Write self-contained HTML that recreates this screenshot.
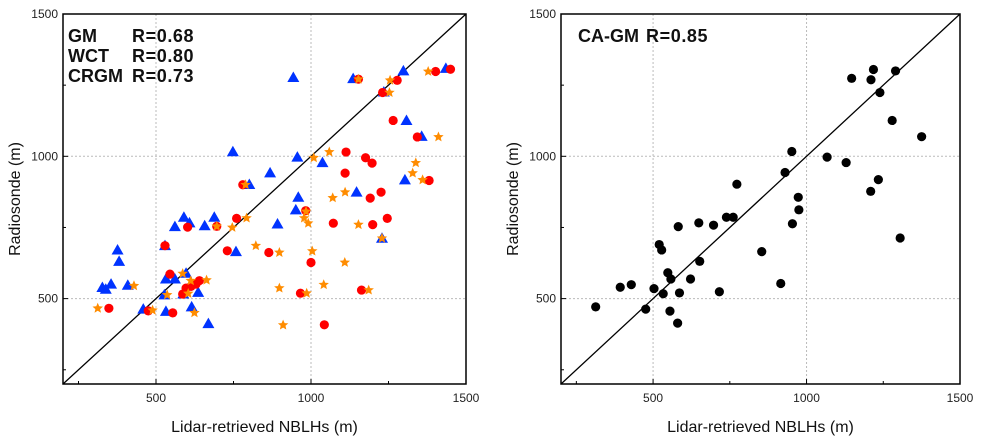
<!DOCTYPE html>
<html><head><meta charset="utf-8"><style>
html,body{margin:0;padding:0;background:#fff;}
svg{display:block;font-family:"Liberation Sans",Arial,sans-serif;}
</style></head><body>
<svg id="chart" width="983" height="444" viewBox="0 0 983 444">
<g id="left"></g>
<g id="right"></g>
</svg>
<script>
const ticks = [500, 1000, 1500];
const minorTicks = [250, 750, 1250];
const gmX = [1450,1402,1278,1231,1265,1343,1113,1176,1197,1110,780,1381,1226,1191,983,760,602,696,529,1072,1199,1246,730,864,1000,545,586,597,613,629,640,1163,966,348,475,554,1043,1153];
const gmY = [1306,1298,1267,1224,1126,1068,1015,995,976,941,900,915,874,853,809,782,751,754,686,765,760,782,668,662,627,586,516,537,543,551,563,530,519,466,457,450,408,1271];
const wctX = [943,1136,1298,1435,1235,1308,1357,748,956,1037,868,801,1303,959,1147,951,590,608,561,657,688,892,1229,376,381,529,758,327,355,338,409,532,561,597,527,588,636,459,532,615,669];
const wctY = [1277,1273,1300,1309,1226,1126,1070,1016,997,978,942,901,917,856,874,812,786,766,753,756,786,762,712,671,631,686,665,539,551,533,547,569,569,589,513,516,522,463,455,471,412];
const crgmX = [1153,1378,1255,1253,1411,1009,1059,1338,1328,1360,789,1110,1070,984,978,991,792,746,696,822,898,1004,1109,586,612,663,429,536,604,898,986,1041,1186,1229,312,489,624,910,1153];
const crgmY = [1271,1298,1267,1224,1068,995,1015,977,941,917,900,874,854,806,783,765,783,750,754,686,662,667,627,588,563,565,545,513,518,537,519,549,530,712,466,459,450,407,760];
const cagmX = [313,393,429,476,503,533,548,558,555,580,586,520,528,582,622,652,649,697,716,739,761,773,854,916,930,952,954,973,975,1067,1129,1147,1209,1210,1218,1234,1239,1279,1290,1305,1375];
const cagmY = [471,540,549,463,535,517,591,569,456,414,520,690,671,753,569,631,766,758,524,786,786,902,665,553,943,1017,763,856,812,997,978,1274,877,1269,1305,918,1224,1126,1300,713,1069];

const NS = "http://www.w3.org/2000/svg";
function mk(parent, tag, attrs){ const e=document.createElementNS(NS,tag); for(const k in attrs) e.setAttribute(k,attrs[k]); parent.appendChild(e); return e; }

function panel(g, x0, x1, y0, y1){
  const sx = v => x0 + (v-200)*(x1-x0)/1300;
  const sy = v => y1 - (v-200)*(y1-y0)/1300;
  [500,1000].forEach(t=>{
    let l=mk(g,'line',{x1:sx(t),x2:sx(t),y1:y0,y2:y1,stroke:'#bbb','stroke-dasharray':'2,2','stroke-width':1});
    
    
    l=mk(g,'line',{x1:x0,x2:x1,y1:sy(t),y2:sy(t),stroke:'#bbb','stroke-dasharray':'2,2','stroke-width':1});
    
    
  });
  const d=mk(g,'line',{x1:sx(200),y1:sy(200),x2:sx(1500),y2:sy(1500),stroke:'#000','stroke-width':1.3});
  
  
  return {sx,sy};
}
function frame(g,x0,x1,y0,y1,sx,sy){
  const f=mk(g,'rect',{x:x0,y:y0,width:x1-x0,height:y1-y0,fill:'none',stroke:'#000','stroke-width':1.5});
  
  
  ticks.concat(minorTicks).forEach(t=>{
    const len = ticks.includes(t)?5:3;
    if(t<1500){
      mk(g,'line',{x1:sx(t),x2:sx(t),y1:y1,y2:y1-len,stroke:'#000','stroke-width':1});
      mk(g,'line',{x1:x0,x2:x0+len,y1:sy(t),y2:sy(t),stroke:'#000','stroke-width':1});
    }
  });
  ticks.forEach(t=>{
    const tx=mk(g,'text',{x:sx(t),y:y1+18,'text-anchor':'middle','font-size':12,fill:'#222'});
    tx.textContent=t;
    
    
    const ty=mk(g,'text',{x:x0-5,y:sy(t)+4,'text-anchor':'end','font-size':12,fill:'#222'});
    ty.textContent=t;
    
    
  });
  const xt=mk(g,'text',{x:(x0+x1)/2,y:432,'text-anchor':'middle','font-size':16,fill:'#111'});
  xt.textContent='Lidar-retrieved NBLHs (m)';
  
  
  const yt=mk(g,'text',{x:0,y:0,'text-anchor':'middle','font-size':16,fill:'#111',transform:`translate(${x0-43},${(y0+y1)/2}) rotate(-90)`});
  yt.textContent='Radiosonde (m)';
  
  
}
function starPts(cx,cy,R){
  const r=R*0.45; let p=[];
  for(let i=0;i<10;i++){const a=-Math.PI/2+i*Math.PI/5; const rr=i%2?r:R; p.push((cx+rr*Math.cos(a)).toFixed(1)+','+(cy+rr*Math.sin(a)).toFixed(1));}
  return p.join(' ');
}

const L=document.getElementById('left');
const lx0=63,lx1=466,ly0=14,ly1=384;
const A=panel(L,lx0,lx1,ly0,ly1);
wctX.forEach((v,i)=>{
  const cx=A.sx(v), cy=A.sy(wctY[i]);
  const e=mk(L,'polygon',{points:`${cx-6},${cy+4.5} ${cx+6},${cy+4.5} ${cx},${cy-6}`,fill:'#0033ff'});
  
  
});
gmX.forEach((v,i)=>{
  const e=mk(L,'circle',{cx:A.sx(v),cy:A.sy(gmY[i]),r:4.6,fill:'#ff0000'});
  
  
});
crgmX.forEach((v,i)=>{
  const e=mk(L,'polygon',{points:starPts(A.sx(v),A.sy(crgmY[i]),5.5),fill:'#ff8c00'});
  
  
});
frame(L,lx0,lx1,ly0,ly1,A.sx,A.sy);
[['GM','R=0.68',42],['WCT','R=0.80',62],['CRGM','R=0.73',82]].forEach(r=>{
  const a=mk(L,'text',{x:68,y:r[2],'font-size':18,'font-weight':'bold',fill:'#111'});
  a.textContent=r[0];
  
  
  const b=mk(L,'text',{x:132,y:r[2],'font-size':18,'font-weight':'bold',fill:'#111','letter-spacing':'0.6'});
  b.textContent=r[1];
  
  
});

const Rg=document.getElementById('right');
const rx0=561,rx1=960,ry0=14,ry1=384;
const B=panel(Rg,rx0,rx1,ry0,ry1);
cagmX.forEach((v,i)=>{
  const e=mk(Rg,'circle',{cx:B.sx(v),cy:B.sy(cagmY[i]),r:4.6,fill:'#000'});
  
  
});
frame(Rg,rx0,rx1,ry0,ry1,B.sx,B.sy);
const t=mk(Rg,'text',{x:578,y:42,'font-size':18,'font-weight':'bold',fill:'#111'});
t.textContent='CA-GM';


const t2=mk(Rg,'text',{x:646,y:42,'font-size':18,'font-weight':'bold',fill:'#111','letter-spacing':'0.6'});
t2.textContent='R=0.85';


</script>
</body></html>
